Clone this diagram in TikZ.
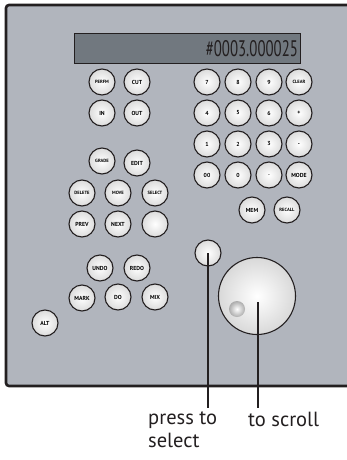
\documentclass[tikz,border=0pt]{standalone}
\usepackage{fontspec}
\setmainfont{PT Sans}
\usetikzlibrary{positioning}
\definecolor{panel}{HTML}{B1B5BD}
\definecolor{lcd}{HTML}{71787F}
\definecolor{rim}{HTML}{231F20}
\tikzset{
  gomb/.style={circle,draw=rim,line width=1.1pt,minimum size=26pt,inner sep=0pt,
    inner color=white,outer color=gray!28,
    font=\fontsize{5.8}{6}\selectfont\bfseries},
  kis/.style={gomb,font=\fontsize{4.6}{5}\selectfont\bfseries},
  vonal/.style={draw=rim,line width=1.4pt},
  felirat/.style={font=\fontsize{20.5}{23}\selectfont,text=rim,inner sep=0pt,align=left},
}

\begin{document}
\begin{tikzpicture}[x=1pt,y=-1pt]
  \useasboundingbox (0,0) rectangle (347,460);
  % panel and display
  \draw[fill=panel,draw=rim,line width=2.6pt,rounded corners=3pt] (6,5) rectangle (360,386);
  \node (lcd) [draw=rim,line width=1.1pt,fill=lcd,minimum width=226pt,minimum height=30pt,
    inner sep=2pt,anchor=north west] at (74,33) {};
  \node (num) [anchor=east,inner sep=0pt,font=\fontsize{22.5}{22}\selectfont,xscale=0.66,text=rim]
    at ([xshift=-3pt]lcd.east) {\#0003.000025};
  % left group
  \node (perfm) [kis] at (102,82) {PERFM};
  \node (cut) [gomb] at (137,82) {CUT};
  \node (in) [gomb] at (102,113) {IN};
  \node (out) [gomb] at (137,113) {OUT};
  \node (grade) [kis] at (102,161) {GRADE};
  \node (edit) [gomb] at (137,163) {EDIT};
  \node (delete) [kis] at (82,193) {DELETE};
  \node (move) [kis] at (118,193) {MOVE};
  \node (select) [kis] at (155,193) {SELECT};
  \node (prev) [gomb] at (82,224) {PREV};
  \node (next) [gomb] at (118,224) {NEXT};
  \node (blank) [gomb] at (155,224) {};
  \node (undo) [gomb] at (100,268) {UNDO};
  \node (redo) [gomb] at (137,268) {REDO};
  \node (mark) [gomb] at (82,298) {MARK};
  \node (do) [gomb] at (118,297) {DO};
  \node (mix) [gomb] at (155,297) {MIX};
  \node (alt) [gomb] at (45,323) {ALT};
  % keypad
  \node (k7) [gomb] at (207,82) {7};
  \node (k8) [gomb] at (238,82) {8};
  \node (k9) [gomb] at (269,82) {9};
  \node (clear) [kis] at (299,82) {CLEAR};
  \node (k4) [gomb] at (207,113) {4};
  \node (k5) [gomb] at (238,113) {5};
  \node (k6) [gomb] at (269,113) {6};
  \node (plus) [gomb] at (299,113) {+};
  \node (k1) [gomb] at (207,144) {1};
  \node (k2) [gomb] at (238,144) {2};
  \node (k3) [gomb] at (269,144) {3};
  \node (minus) [gomb] at (299,144) {-};
  \node (k00) [gomb] at (207,175) {00};
  \node (k0) [gomb] at (238,175) {0};
  \node (dot) [gomb] at (269,175) {.};
  \node (mode) [gomb] at (299,175) {MODE};
  \node (mem) [gomb] at (252,210) {MEM};
  \node (recall) [kis] at (287,210) {RECALL};
  % push button and wheel
  \node (press) [gomb] at (208,253) {};
  \node (wheel) [circle,draw=rim,line width=1.1pt,minimum size=77pt,inner sep=0pt,
    inner color=white,outer color=gray!30] at (257,296) {};
  \node (dimple) [circle,minimum size=16pt,inner sep=0pt,inner color=white,
    outer color=gray!65] at (237,309) {};
  % callouts
  \coordinate (pe) at (208,408);
  \coordinate (se) at (258,408);
  \draw[vonal] (press.center) -- (pe);
  \draw[vonal] (258,302) -- (se);
  \node (plbl) [felirat,anchor=north west] at (148,412) {press to\\select};
  \node (slbl) [felirat,anchor=north west] at (248,412) {to scroll};
\end{tikzpicture}
\end{document}
